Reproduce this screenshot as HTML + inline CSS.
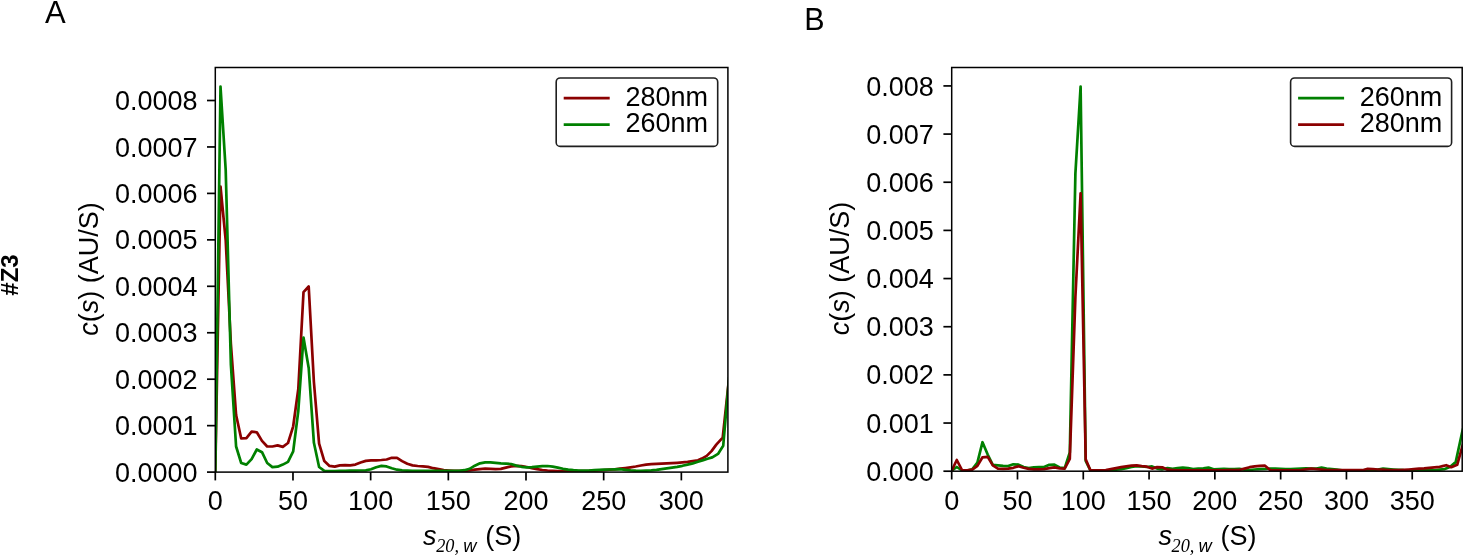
<!DOCTYPE html>
<html><head><meta charset="utf-8"><title>c(s) distributions</title>
<style>
html,body{margin:0;padding:0;background:#fff;}
svg{display:block;}
text{font-family:"Liberation Sans",Arial,Helvetica,sans-serif;fill:#000;}
.t{font-size:27.0px;}
.it{font-style:italic;}
.sub{font-family:"Liberation Serif","Times New Roman",serif;font-style:italic;font-size:18.3px;}
.subw{font-style:italic;font-size:18.3px;}
</style></head><body>
<svg width="1464" height="557" viewBox="0 0 1464 557">
<rect x="0" y="0" width="1464" height="557" fill="#ffffff"/>
<defs>
<clipPath id="ca"><rect x="215.3" y="67.5" width="512.5999999999999" height="404.6"/></clipPath>
<clipPath id="cb"><rect x="951.7" y="67.5" width="510.5" height="403.7"/></clipPath>
</defs>
<polyline points="215.3,472.0 220.5,186.5 225.7,240.0 230.9,344.0 236.1,415.0 241.2,438.5 246.4,438.1 251.6,431.7 256.8,432.3 262.0,440.9 267.2,446.5 272.4,446.5 277.6,445.4 282.8,446.9 288.0,443.0 293.2,426.3 298.3,389.0 303.5,292.2 308.7,286.5 313.9,382.0 319.1,443.6 324.3,461.1 329.5,465.9 334.7,466.6 339.9,465.4 345.1,465.1 350.2,465.4 355.4,464.6 360.6,462.5 365.8,460.9 371.0,460.4 376.2,460.3 381.4,460.0 386.6,459.5 391.8,457.8 397.0,457.8 402.1,461.1 407.3,463.8 412.5,465.4 417.7,466.0 422.9,466.3 428.1,466.9 433.3,468.2 438.5,469.2 443.7,470.1 448.9,470.5 454.0,470.8 459.2,470.8 464.4,470.8 469.6,470.5 474.8,469.7 480.0,469.1 485.2,468.7 490.4,468.9 495.6,469.1 500.8,468.9 505.9,467.6 511.1,466.4 516.3,465.9 521.5,466.1 526.7,467.0 531.9,468.1 537.1,469.1 542.3,470.0 547.5,470.5 552.7,470.8 557.8,471.0 563.0,471.0 568.2,471.0 573.4,471.0 578.6,471.0 583.8,471.0 589.0,470.9 594.2,470.6 599.4,470.4 604.6,470.1 609.7,469.7 614.9,469.3 620.1,468.7 625.3,468.0 630.5,467.3 635.7,466.5 640.9,465.5 646.1,464.6 651.3,464.2 656.5,463.9 661.6,463.7 666.8,463.4 672.0,463.1 677.2,462.8 682.4,462.4 687.6,461.9 692.8,461.1 698.0,460.3 701.8,458.6 706.7,455.9 711.5,451.1 716.3,444.6 722.7,437.6 727.7,391.0 728.9,380.0" fill="none" stroke="#8b0000" stroke-width="2.7" stroke-linejoin="round" stroke-linecap="butt" clip-path="url(#ca)"/>
<polyline points="215.3,472.0 220.5,86.5 225.7,170.0 230.9,365.0 236.1,446.5 241.2,463.0 246.4,464.6 251.6,459.1 256.8,449.5 262.0,452.2 267.2,463.0 272.4,467.1 277.6,466.7 282.8,464.6 288.0,461.9 293.2,451.4 298.3,411.0 303.5,337.5 308.7,368.0 313.9,442.8 319.1,467.0 324.3,470.8 329.5,471.0 334.7,471.0 339.9,470.9 345.1,470.8 350.2,470.7 355.4,470.6 360.6,470.5 365.8,470.4 371.0,469.3 376.2,467.2 381.4,465.9 386.6,466.4 391.8,468.3 397.0,469.7 402.1,470.3 407.3,470.6 412.5,470.8 417.7,470.8 422.9,470.8 428.1,470.8 433.3,470.8 438.5,470.8 443.7,470.8 448.9,470.8 454.0,470.8 459.2,470.8 464.4,470.2 469.6,468.8 474.8,465.7 480.0,463.3 485.2,462.3 490.4,462.3 495.6,462.8 500.8,463.3 505.9,463.6 511.1,464.0 516.3,465.6 521.5,466.8 526.7,467.4 531.9,467.1 537.1,466.6 542.3,466.1 547.5,466.0 552.7,466.7 557.8,467.6 563.0,468.8 568.2,469.6 573.4,470.2 578.6,470.5 583.8,470.6 589.0,470.5 594.2,470.2 599.4,469.9 604.6,469.7 609.7,469.5 614.9,469.3 620.1,469.1 625.3,469.8 630.5,470.4 635.7,470.7 640.9,470.8 646.1,470.6 651.3,470.3 656.5,469.8 661.6,469.1 666.8,468.4 672.0,467.6 677.2,466.8 682.4,465.8 687.6,464.6 692.8,463.4 698.0,461.8 703.2,460.1 707.5,458.7 712.3,457.4 718.0,453.9 723.2,445.8 727.9,391.0 729.1,377.0" fill="none" stroke="#008000" stroke-width="2.7" stroke-linejoin="round" stroke-linecap="butt" clip-path="url(#ca)"/>
<line x1="215.30" y1="472.10" x2="215.30" y2="480.40" stroke="#000" stroke-width="1.7"/>
<text class="t" x="215.30" y="509.7" text-anchor="middle">0</text>
<line x1="292.98" y1="472.10" x2="292.98" y2="480.40" stroke="#000" stroke-width="1.7"/>
<text class="t" x="292.98" y="509.7" text-anchor="middle">50</text>
<line x1="370.65" y1="472.10" x2="370.65" y2="480.40" stroke="#000" stroke-width="1.7"/>
<text class="t" x="370.65" y="509.7" text-anchor="middle">100</text>
<line x1="448.33" y1="472.10" x2="448.33" y2="480.40" stroke="#000" stroke-width="1.7"/>
<text class="t" x="448.33" y="509.7" text-anchor="middle">150</text>
<line x1="526.00" y1="472.10" x2="526.00" y2="480.40" stroke="#000" stroke-width="1.7"/>
<text class="t" x="526.00" y="509.7" text-anchor="middle">200</text>
<line x1="603.67" y1="472.10" x2="603.67" y2="480.40" stroke="#000" stroke-width="1.7"/>
<text class="t" x="603.67" y="509.7" text-anchor="middle">250</text>
<line x1="681.35" y1="472.10" x2="681.35" y2="480.40" stroke="#000" stroke-width="1.7"/>
<text class="t" x="681.35" y="509.7" text-anchor="middle">300</text>
<line x1="207.00" y1="472.10" x2="215.30" y2="472.10" stroke="#000" stroke-width="1.7"/>
<text class="t" x="197.50" y="481.70" text-anchor="end">0.0000</text>
<line x1="207.00" y1="425.65" x2="215.30" y2="425.65" stroke="#000" stroke-width="1.7"/>
<text class="t" x="197.50" y="435.25" text-anchor="end">0.0001</text>
<line x1="207.00" y1="379.20" x2="215.30" y2="379.20" stroke="#000" stroke-width="1.7"/>
<text class="t" x="197.50" y="388.80" text-anchor="end">0.0002</text>
<line x1="207.00" y1="332.75" x2="215.30" y2="332.75" stroke="#000" stroke-width="1.7"/>
<text class="t" x="197.50" y="342.35" text-anchor="end">0.0003</text>
<line x1="207.00" y1="286.30" x2="215.30" y2="286.30" stroke="#000" stroke-width="1.7"/>
<text class="t" x="197.50" y="295.90" text-anchor="end">0.0004</text>
<line x1="207.00" y1="239.85" x2="215.30" y2="239.85" stroke="#000" stroke-width="1.7"/>
<text class="t" x="197.50" y="249.45" text-anchor="end">0.0005</text>
<line x1="207.00" y1="193.40" x2="215.30" y2="193.40" stroke="#000" stroke-width="1.7"/>
<text class="t" x="197.50" y="203.00" text-anchor="end">0.0006</text>
<line x1="207.00" y1="146.95" x2="215.30" y2="146.95" stroke="#000" stroke-width="1.7"/>
<text class="t" x="197.50" y="156.55" text-anchor="end">0.0007</text>
<line x1="207.00" y1="100.50" x2="215.30" y2="100.50" stroke="#000" stroke-width="1.7"/>
<text class="t" x="197.50" y="110.10" text-anchor="end">0.0008</text>
<rect x="215.30" y="67.50" width="512.60" height="404.60" fill="none" stroke="#000" stroke-width="1.5"/>
<polyline points="951.7,470.7 956.8,467.0 962.0,470.5 967.1,470.6 972.2,469.3 977.4,462.7 982.5,442.2 987.7,454.6 992.8,464.8 997.9,465.4 1003.1,465.9 1008.2,466.1 1013.3,464.3 1018.5,464.6 1023.6,467.0 1028.7,468.1 1033.9,467.3 1039.0,467.0 1044.1,467.0 1049.3,464.8 1054.4,464.6 1059.6,467.5 1064.7,468.1 1069.8,452.5 1075.4,173.4 1080.6,86.6 1085.7,461.0 1090.4,470.4 1095.5,470.5 1100.6,470.5 1105.8,470.5 1110.9,470.0 1116.1,469.6 1121.2,469.1 1126.3,468.1 1131.5,467.0 1136.6,466.1 1141.7,466.5 1146.9,467.0 1152.0,466.4 1157.1,468.6 1162.3,469.3 1167.4,468.1 1172.5,468.9 1177.7,468.1 1182.8,467.7 1188.0,468.1 1193.1,469.1 1198.2,468.6 1203.4,468.3 1208.5,467.5 1213.6,469.3 1218.8,469.1 1223.9,468.9 1229.0,469.1 1234.2,469.1 1239.3,468.9 1244.5,469.6 1249.6,470.0 1254.7,469.5 1259.9,469.2 1265.0,469.0 1270.1,468.5 1275.3,468.6 1280.4,468.8 1285.5,469.1 1290.7,469.1 1295.8,468.9 1300.9,468.6 1306.1,468.3 1311.2,468.6 1316.4,468.6 1321.5,467.7 1326.6,468.6 1331.8,469.1 1336.9,469.7 1342.0,470.3 1347.2,470.3 1352.3,470.3 1357.4,470.3 1362.6,470.3 1367.7,470.0 1372.9,470.0 1378.0,469.5 1383.1,468.6 1388.3,469.1 1393.4,469.5 1398.5,469.9 1403.7,470.2 1408.8,470.3 1413.9,470.3 1419.1,470.3 1424.2,470.3 1429.3,470.3 1434.5,470.3 1439.6,469.7 1444.8,469.1 1449.9,467.0 1455.7,462.1 1462.2,432.0 1464.0,425.0" fill="none" stroke="#008000" stroke-width="2.7" stroke-linejoin="round" stroke-linecap="butt" clip-path="url(#cb)"/>
<polyline points="951.7,470.7 956.8,460.0 962.0,470.0 967.1,470.4 972.2,469.7 977.4,465.9 982.5,457.3 987.7,456.9 992.8,465.4 997.9,468.6 1003.1,468.9 1008.2,468.6 1013.3,467.8 1018.5,466.2 1023.6,467.8 1028.7,468.9 1033.9,469.3 1039.0,469.3 1044.1,469.1 1049.3,468.1 1054.4,467.3 1059.6,468.3 1064.7,468.6 1069.8,458.9 1075.4,297.0 1080.6,193.3 1085.7,459.4 1090.4,470.2 1095.5,470.4 1100.6,470.3 1105.8,470.0 1110.9,469.1 1116.1,468.1 1121.2,467.2 1126.3,466.4 1131.5,465.7 1136.6,465.4 1141.7,466.2 1146.9,466.7 1152.0,468.6 1157.1,467.1 1162.3,467.3 1167.4,469.7 1172.5,470.0 1177.7,470.3 1182.8,470.4 1188.0,470.4 1193.1,470.4 1198.2,470.4 1203.4,470.4 1208.5,470.4 1213.6,470.4 1218.8,470.4 1223.9,470.3 1229.0,470.2 1234.2,470.2 1239.3,470.0 1244.5,468.6 1249.6,467.2 1254.7,466.4 1259.9,465.9 1265.0,465.7 1270.1,470.0 1275.3,470.3 1280.4,470.3 1285.5,470.3 1290.7,470.3 1295.8,470.3 1300.9,470.0 1306.1,469.3 1311.2,468.6 1316.4,469.1 1321.5,469.7 1326.6,470.2 1331.8,470.2 1336.9,470.2 1342.0,470.2 1347.2,470.2 1352.3,470.2 1357.4,470.2 1362.6,470.2 1367.7,468.9 1372.9,469.1 1378.0,469.5 1383.1,469.7 1388.3,470.0 1393.4,470.0 1398.5,470.0 1403.7,469.8 1408.8,469.5 1413.9,469.1 1419.1,468.6 1424.2,468.3 1429.3,467.8 1434.5,467.3 1439.6,466.8 1441.5,466.4 1446.2,465.2 1451.3,467.2 1457.2,464.8 1462.2,446.8 1464.0,441.0" fill="none" stroke="#8b0000" stroke-width="2.7" stroke-linejoin="round" stroke-linecap="butt" clip-path="url(#cb)"/>
<line x1="951.70" y1="471.20" x2="951.70" y2="479.50" stroke="#000" stroke-width="1.7"/>
<text class="t" x="951.70" y="509.7" text-anchor="middle">0</text>
<line x1="1017.49" y1="471.20" x2="1017.49" y2="479.50" stroke="#000" stroke-width="1.7"/>
<text class="t" x="1017.49" y="509.7" text-anchor="middle">50</text>
<line x1="1083.28" y1="471.20" x2="1083.28" y2="479.50" stroke="#000" stroke-width="1.7"/>
<text class="t" x="1083.28" y="509.7" text-anchor="middle">100</text>
<line x1="1149.07" y1="471.20" x2="1149.07" y2="479.50" stroke="#000" stroke-width="1.7"/>
<text class="t" x="1149.07" y="509.7" text-anchor="middle">150</text>
<line x1="1214.86" y1="471.20" x2="1214.86" y2="479.50" stroke="#000" stroke-width="1.7"/>
<text class="t" x="1214.86" y="509.7" text-anchor="middle">200</text>
<line x1="1280.65" y1="471.20" x2="1280.65" y2="479.50" stroke="#000" stroke-width="1.7"/>
<text class="t" x="1280.65" y="509.7" text-anchor="middle">250</text>
<line x1="1346.44" y1="471.20" x2="1346.44" y2="479.50" stroke="#000" stroke-width="1.7"/>
<text class="t" x="1346.44" y="509.7" text-anchor="middle">300</text>
<line x1="1412.23" y1="471.20" x2="1412.23" y2="479.50" stroke="#000" stroke-width="1.7"/>
<text class="t" x="1412.23" y="509.7" text-anchor="middle">350</text>
<line x1="943.40" y1="471.20" x2="951.70" y2="471.20" stroke="#000" stroke-width="1.7"/>
<text class="t" x="933.90" y="480.80" text-anchor="end">0.000</text>
<line x1="943.40" y1="423.04" x2="951.70" y2="423.04" stroke="#000" stroke-width="1.7"/>
<text class="t" x="933.90" y="432.64" text-anchor="end">0.001</text>
<line x1="943.40" y1="374.88" x2="951.70" y2="374.88" stroke="#000" stroke-width="1.7"/>
<text class="t" x="933.90" y="384.48" text-anchor="end">0.002</text>
<line x1="943.40" y1="326.72" x2="951.70" y2="326.72" stroke="#000" stroke-width="1.7"/>
<text class="t" x="933.90" y="336.32" text-anchor="end">0.003</text>
<line x1="943.40" y1="278.56" x2="951.70" y2="278.56" stroke="#000" stroke-width="1.7"/>
<text class="t" x="933.90" y="288.16" text-anchor="end">0.004</text>
<line x1="943.40" y1="230.40" x2="951.70" y2="230.40" stroke="#000" stroke-width="1.7"/>
<text class="t" x="933.90" y="240.00" text-anchor="end">0.005</text>
<line x1="943.40" y1="182.24" x2="951.70" y2="182.24" stroke="#000" stroke-width="1.7"/>
<text class="t" x="933.90" y="191.84" text-anchor="end">0.006</text>
<line x1="943.40" y1="134.08" x2="951.70" y2="134.08" stroke="#000" stroke-width="1.7"/>
<text class="t" x="933.90" y="143.68" text-anchor="end">0.007</text>
<line x1="943.40" y1="85.92" x2="951.70" y2="85.92" stroke="#000" stroke-width="1.7"/>
<text class="t" x="933.90" y="95.52" text-anchor="end">0.008</text>
<rect x="951.70" y="67.50" width="510.50" height="403.70" fill="none" stroke="#000" stroke-width="1.5"/>
<rect x="556.2" y="78.0" width="161.5" height="68.4" rx="4" ry="4" fill="#fff" fill-opacity="0.8" stroke="#1f1f1f" stroke-width="1.6"/>
<line x1="563.7" y1="98.1" x2="609.7" y2="98.1" stroke="#8b0000" stroke-width="2.7"/>
<text class="t" x="625.4" y="105.7">280nm</text>
<line x1="563.7" y1="124.6" x2="609.7" y2="124.6" stroke="#008000" stroke-width="2.7"/>
<text class="t" x="625.4" y="132.2">260nm</text>
<rect x="1290.6" y="78.0" width="161.0" height="68.4" rx="4" ry="4" fill="#fff" fill-opacity="0.8" stroke="#1f1f1f" stroke-width="1.6"/>
<line x1="1298.1" y1="98.1" x2="1344.1" y2="98.1" stroke="#008000" stroke-width="2.7"/>
<text class="t" x="1359.8" y="105.7">260nm</text>
<line x1="1298.1" y1="124.6" x2="1344.1" y2="124.6" stroke="#8b0000" stroke-width="2.7"/>
<text class="t" x="1359.8" y="132.2">280nm</text>
<text class="t" transform="translate(97.6,269.0) rotate(-90)" text-anchor="middle"><tspan class="it">c</tspan>(<tspan class="it">s</tspan>) (AU/S)</text>
<text class="t" transform="translate(849.3,268.6) rotate(-90)" text-anchor="middle"><tspan class="it">c</tspan>(<tspan class="it">s</tspan>) (AU/S)</text>
<text class="t it" x="423.1" y="544.6">s</text>
<text class="sub" x="436.2" y="552">20,</text>
<text class="subw" x="463.2" y="552">w</text>
<text class="t" x="485.2" y="544.6">(S)</text>
<text class="t it" x="1158.4" y="544.6">s</text>
<text class="sub" x="1171.5" y="552">20,</text>
<text class="subw" x="1198.5" y="552">w</text>
<text class="t" x="1220.5" y="544.6">(S)</text>
<text x="44.9" y="22.8" style="font-size:31px">A</text>
<text x="804.3" y="30.2" style="font-size:30.5px">B</text>
<text transform="translate(18.2,275) rotate(-90)" text-anchor="middle" style="font-size:24px;font-weight:bold">#Z3</text>
</svg></body></html>
